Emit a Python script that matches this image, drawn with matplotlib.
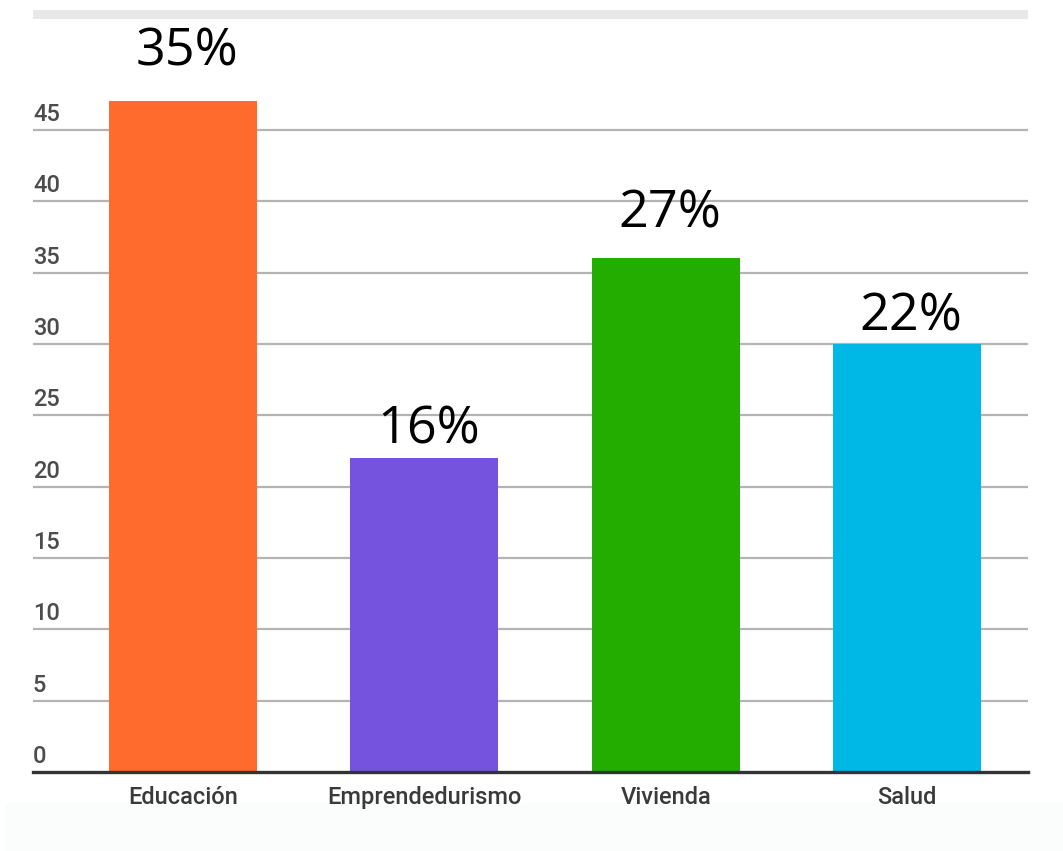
import matplotlib.pyplot as plt
import matplotlib.transforms as mtransforms
from matplotlib.patches import Rectangle

# data
categories = ['Educación', 'Emprendedurismo', 'Vivienda', 'Salud']
values = [47, 22, 36, 30]
pct_labels = ['35%', '16%', '27%', '22%']
colors = ['#ff6a2d', '#7653de', '#23ad00', '#00b8e6']
yticks = [0, 5, 10, 15, 20, 25, 30, 35, 40, 45]
# gap between bar top and label, in pixels (labels sit at different heights)
label_gaps = [36, 15, 31, 13]

fig = plt.figure(figsize=(10.63, 8.51), dpi=100)
fig.patch.set_facecolor('white')

# light strip on top and pale band at the bottom
fig.add_artist(Rectangle((33/1063, 1-19/851), 995/1063, 9/851,
                         transform=fig.transFigure, color='#e8e8e8', lw=0))
fig.add_artist(Rectangle((5/1063, 0), 1058/1063, 48/851,
                         transform=fig.transFigure, color='#fbfcfc', lw=0, zorder=0))

ax = fig.add_axes([33/1063, 79/851, 995/1063, 685/851])
ax.set_facecolor('none')
x = list(range(len(categories)))
ax.bar(x, values, width=0.613, color=colors, zorder=3)

ax.set_xlim(-0.622, 3.501)
ax.set_ylim(0, 48)

# gridlines
for t in yticks[1:]:
    ax.axhline(t, color='#b4b4b4', lw=1.6, zorder=1)
ax.axhline(0, color='#333333', lw=2.4, zorder=4, clip_on=False)

for s in ax.spines.values():
    s.set_visible(False)
ax.set_yticks([])
ax.set_xticks(x)
ax.set_xticklabels(categories, fontfamily='Roboto', fontweight='medium',
                   fontsize=17, color='#3a3a3a')
ax.tick_params(axis='x', length=0, pad=10)

# y labels sit above their gridlines, left aligned
trans = mtransforms.blended_transform_factory(ax.transAxes, ax.transData)
for t in yticks:
    ax.annotate(str(t), xy=(0, t), xycoords=trans, xytext=(0, 4),
                textcoords='offset pixels', ha='left', va='bottom',
                fontfamily='Roboto', fontweight='medium', fontsize=17,
                color='#4c4c4c')

# percent labels
for xi, v, lab, g in zip(x, values, pct_labels, label_gaps):
    ax.annotate(lab, xy=(xi, v), xytext=(4, g), textcoords='offset pixels',
                ha='center', va='baseline', fontfamily='Open Sans',
                fontsize=37.5, color='black', annotation_clip=False)

plt.savefig('out.png', dpi=100)
